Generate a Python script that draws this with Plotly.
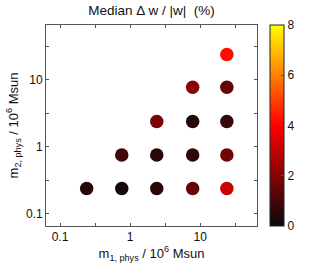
import plotly.graph_objects as go

# data
m1 = [0.24, 0.76, 2.4, 7.8, 24,
      0.76, 2.4, 7.8, 24,
      2.4, 7.8, 24,
      7.8, 24,
      24]
m2 = [0.24, 0.24, 0.24, 0.24, 0.24,
      0.76, 0.76, 0.76, 0.76,
      2.4, 2.4, 2.4,
      7.8, 7.8,
      24]
median_dw = [0.45, 0.2, 0.5, 1.5, 3.1,
             0.9, 0.5, 0.6, 1.65,
             1.8, 0.4, 0.75,
             2.1, 1.5,
             4.2]

tick_vals = [0.1, 1, 10]
tick_text = ["0.1", "1", "10"]
minor_tick_vals = [0.316, 3.16, 31.6]
cbar_ticks = [0, 2, 4, 6, 8]

hot = [[0, "rgb(10,8,10)"], [0.5, "rgb(255,0,0)"], [1, "rgb(255,255,0)"]]
FONT = "Liberation Sans, Arial, sans-serif"

fig = go.Figure(go.Scatter(
    x=m1, y=m2, mode="markers",
    marker=dict(size=13.5, color=median_dw, colorscale=hot, cmin=0, cmax=8,
                line=dict(width=0),
                colorbar=dict(x=1.0616, xanchor="left", xref="paper",
                              y=0.5, yanchor="middle", len=1.0, lenmode="fraction",
                              thickness=14, outlinecolor="#222", outlinewidth=1,
                              tickvals=cbar_ticks, ticks="inside", ticklen=3,
                              tickcolor="#555",
                              tickfont=dict(size=12, color="#111", family=FONT),
                              ypad=0, xpad=0)),
    hoverinfo="skip",
    showlegend=False,
))

axis_common = dict(type="log", showgrid=False, zeroline=False, automargin=False,
                   showline=True, linecolor="#555", linewidth=1, mirror="ticks",
                   ticks="inside", ticklen=3, tickcolor="#555",
                   tickvals=tick_vals, ticktext=tick_text,
                   minor=dict(tickvals=minor_tick_vals, ticks="inside", ticklen=3,
                              tickcolor="#555", showgrid=False),
                   tickfont=dict(size=12, color="#111", family=FONT))

fig.update_layout(
    template="none",
    width=327, height=273,
    margin=dict(l=46, r=70, t=25, b=47),
    paper_bgcolor="white", plot_bgcolor="white",
    font=dict(family=FONT, color="#111"),
    title=dict(text="Median Δ w / |w|  (%)", x=0.5, xref="paper",
               y=1 - 10 / 273, yref="container", yanchor="middle",
               font=dict(size=13.5, family=FONT, color="#111"), automargin=False),
    xaxis=dict(range=[-1.2, 1.81],
               title=dict(text="m<sub>1, phys</sub> / 10<sup>6</sup> Msun",
                          font=dict(size=13, family=FONT), standoff=0),
               **axis_common),
    yaxis=dict(range=[-1.18, 1.82],
               title=dict(text="m<sub>2, phys</sub> / 10<sup>6</sup> Msun",
                          font=dict(size=13, family=FONT), standoff=4),
               **axis_common),
)

fig.write_html("out.html", config={"displayModeBar": False, "staticPlot": True},
               post_script="document.body.style.margin='0';document.body.style.overflow='hidden';")
